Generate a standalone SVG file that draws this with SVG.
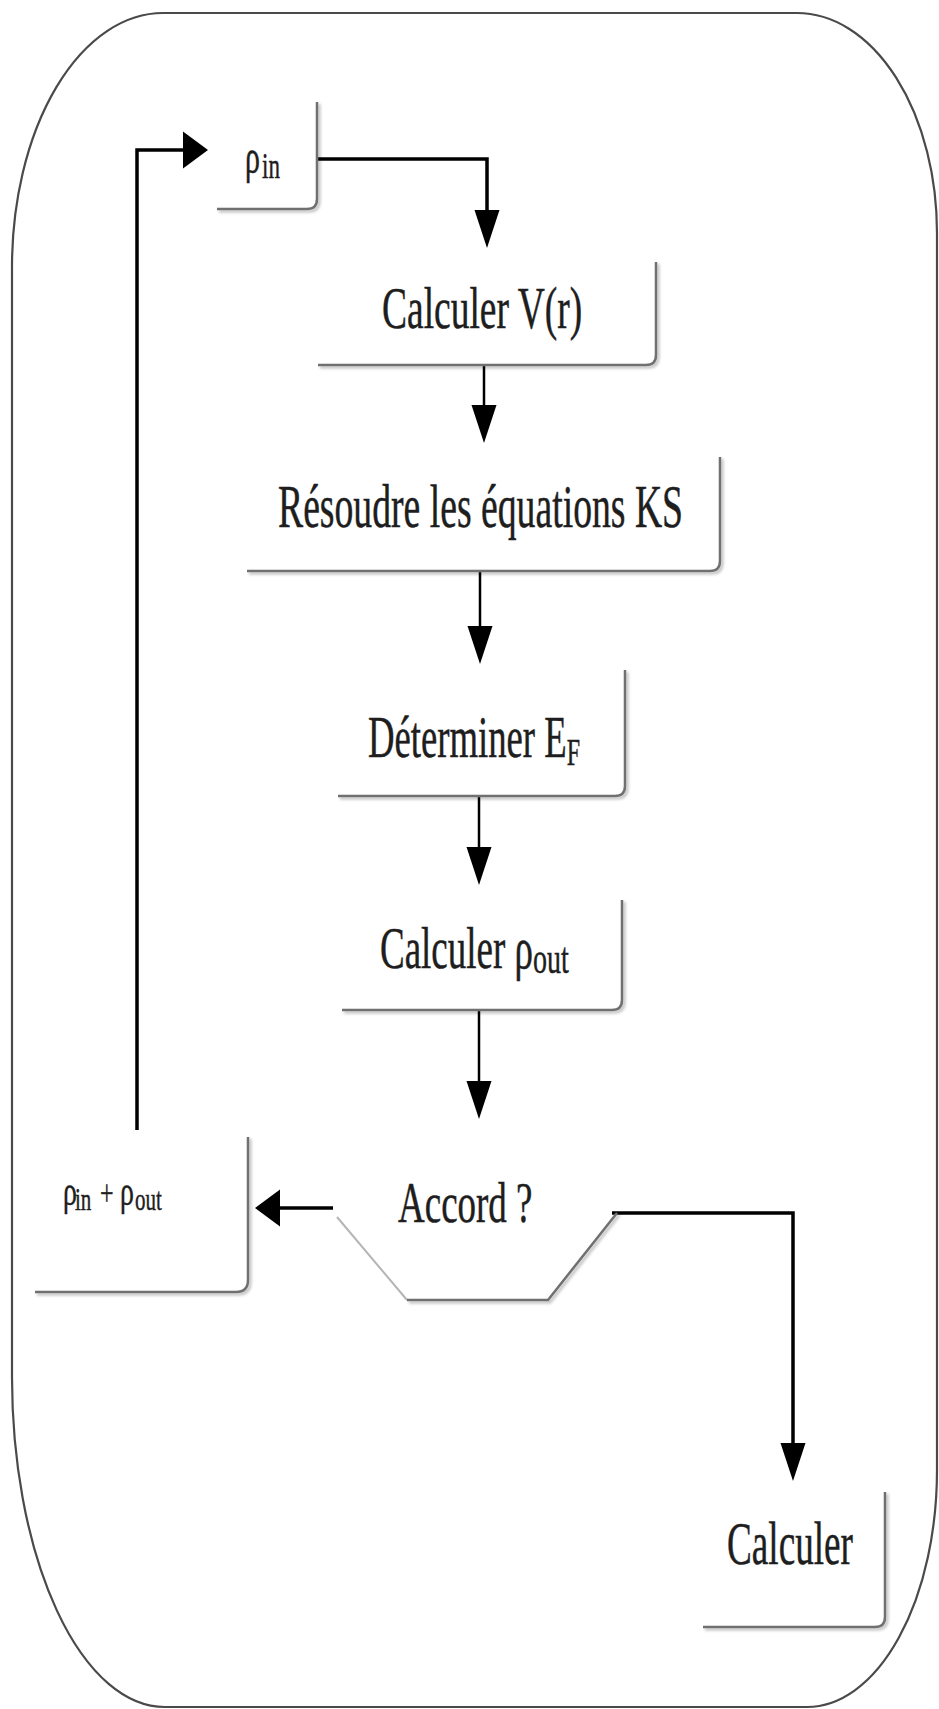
<svg xmlns="http://www.w3.org/2000/svg" width="939" height="1709" viewBox="0 0 939 1709">
<style>
.lbl{font-family:"Liberation Serif","Times New Roman",serif;fill:#1e1e1e;stroke:#1e1e1e;stroke-width:0.3;}
.box{fill:none;stroke:#707070;stroke-width:2.5;filter:url(#sh);}
.frame{fill:#fff;stroke:#4a4a4a;stroke-width:2.2;}
.con{fill:none;stroke:#000;stroke-width:2.5;}
.thick{stroke-width:3.5;}
</style>
<defs>
<filter id="sh" x="-15%" y="-15%" width="140%" height="140%">
<feGaussianBlur in="SourceAlpha" stdDeviation="1.5"/>
<feOffset dx="1.5" dy="2" result="b"/>
<feFlood flood-color="#000" flood-opacity="0.3"/>
<feComposite in2="b" operator="in"/>
<feMerge><feMergeNode/><feMergeNode in="SourceGraphic"/></feMerge>
</filter>
<marker id="av" markerUnits="userSpaceOnUse" markerWidth="38" markerHeight="25" refX="0" refY="12.5" orient="auto" overflow="visible">
<path d="M0,0 L38,12.5 L0,25 Z" fill="#000"/>
</marker>
<marker id="ah" markerUnits="userSpaceOnUse" markerWidth="25" markerHeight="37" refX="0" refY="18.5" orient="auto" overflow="visible">
<path d="M0,0 L25,18.5 L0,37 Z" fill="#000"/>
</marker>
</defs>
<rect width="939" height="1709" fill="#fff"/>
<path id="frame" class="frame" d="M163,13 L797,13 A140,220 0 0 1 937,233 L937,1470 A130,237 0 0 1 807,1707 L165,1707 A153,330 0 0 1 12,1377 L12,267 A151,254 0 0 1 163,13 Z"/>

<g id="connectors">
<path class="con thick" d="M137,1130 L137,150 L183,150" marker-end="url(#ah)"/>
<path class="con thick" d="M317,159 L487,159 L487,210" marker-end="url(#av)"/>
<path class="con" d="M484,365 L484,405" marker-end="url(#av)"/>
<path class="con" d="M480,571 L480,626" marker-end="url(#av)"/>
<path class="con" d="M479,796 L479,847" marker-end="url(#av)"/>
<path class="con" d="M479,1010 L479,1081" marker-end="url(#av)"/>
<path class="con thick" d="M333,1208 L280,1208" marker-end="url(#ah)"/>
<path class="con thick" d="M612,1213 L793,1213 L793,1443" marker-end="url(#av)"/>
</g>

<g id="node-rho-in">
<path class="box" d="M317,102 L317,199 Q317,209 307,209 L217,209"/>
<text class="lbl" transform="translate(0,173) scale(1,1.6)"><tspan x="245" font-size="30">ρ</tspan><tspan x="262" dy="3" font-size="23">in</tspan></text>
</g>

<g id="node-calc-v">
<path class="box" d="M656,262 L656,355 Q656,365 646,365 L318,365"/>
<text class="lbl" x="382" font-size="37.5" transform="translate(0,328) scale(1,1.6)">Calculer V(r)</text>
</g>

<g id="node-ks">
<path class="box" d="M720,457 L720,561 Q720,571 710,571 L247,571"/>
<text class="lbl" x="278" font-size="37.7" transform="translate(0,527) scale(1,1.6)">Résoudre les équations KS</text>
</g>

<g id="node-ef">
<path class="box" d="M625,670 L625,786 Q625,796 615,796 L338,796"/>
<text class="lbl" font-size="36.7" transform="translate(0,757) scale(1,1.6)"><tspan x="368">Déterminer E</tspan><tspan font-size="24" dy="5">F</tspan></text>
</g>

<g id="node-rho-out">
<path class="box" d="M622,900 L622,1000 Q622,1010 612,1010 L342,1010"/>
<text class="lbl" font-size="37" transform="translate(0,968) scale(1,1.6)"><tspan x="380">Calculer ρ</tspan><tspan x="533" font-size="28" dy="3">out</tspan></text>
</g>

<g id="node-accord">
<path d="M337,1217 L407,1300" fill="none" stroke="#b5b5b5" stroke-width="2"/>
<path class="box" d="M407,1300 L548,1300 L617,1213"/>
<text class="lbl" x="398" font-size="37" transform="translate(0,1222) scale(1,1.55)">Accord ?</text>
</g>

<g id="node-mix">
<path class="box" d="M248,1137 L248,1280 Q248,1292 236,1292 L35,1292"/>
<text class="lbl" transform="translate(0,1205) scale(1,1.5)"><tspan x="63" font-size="28">ρ</tspan><tspan x="75" dy="3" font-size="21">in</tspan><tspan x="100" dy="-3" font-size="24">+</tspan><tspan x="120" font-size="28">ρ</tspan><tspan x="135" dy="3" font-size="21">out</tspan></text>
</g>

<g id="node-calc-final">
<path class="box" d="M885,1492 L885,1617 Q885,1627 875,1627 L703,1627"/>
<text class="lbl" x="727" font-size="37.2" transform="translate(0,1564) scale(1,1.63)">Calculer</text>
</g>
</svg>
